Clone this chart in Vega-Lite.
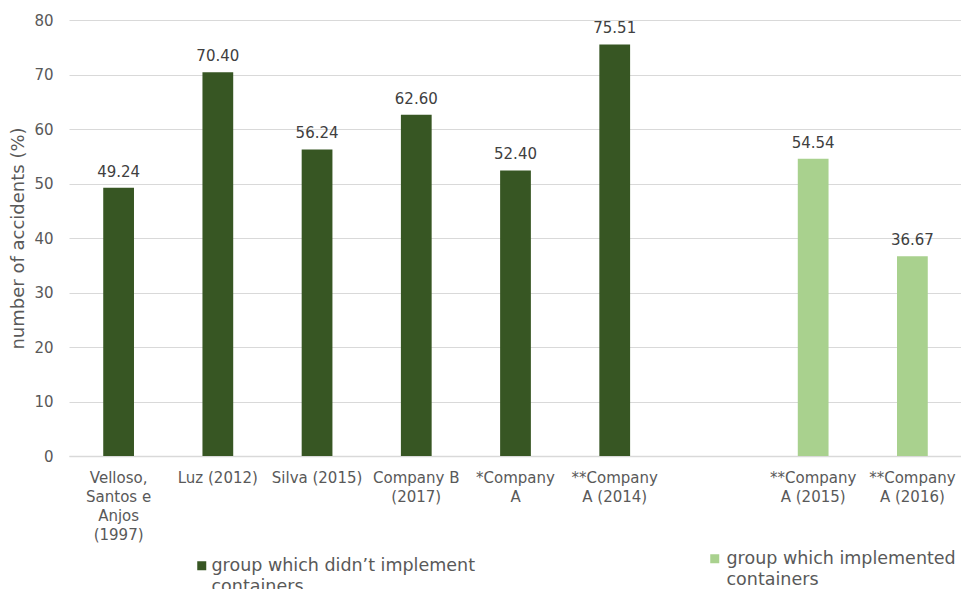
{
  "$schema": "https://vega.github.io/schema/vega-lite/v6.json",
  "autosize": "none",
  "padding": {"left": 69, "top": 20, "right": 0, "bottom": 133},
  "width": 893,
  "height": 436,
  "background": "white",
  "config": {
    "font": "DejaVu Sans",
    "view": {"stroke": null}
  },
  "data": {
    "values": [
      {"study": "Velloso,|Santos e|Anjos|(1997)", "value": 49.24, "group": "group which didn’t implement|containers"},
      {"study": "Luz (2012)", "value": 70.40, "group": "group which didn’t implement|containers"},
      {"study": "Silva (2015)", "value": 56.24, "group": "group which didn’t implement|containers"},
      {"study": "Company B|(2017)", "value": 62.60, "group": "group which didn’t implement|containers"},
      {"study": "*Company|A", "value": 52.40, "group": "group which didn’t implement|containers"},
      {"study": "**Company|A (2014)", "value": 75.51, "group": "group which didn’t implement|containers"},
      {"study": "**Company|A (2015)", "value": 54.54, "group": "group which implemented|containers"},
      {"study": "**Company|A (2016)", "value": 36.67, "group": "group which implemented|containers"}
    ]
  },
  "encoding": {
    "x": {
      "field": "study",
      "type": "nominal",
      "sort": null,
      "scale": {
        "domain": ["Velloso,|Santos e|Anjos|(1997)", "Luz (2012)", "Silva (2015)", "Company B|(2017)", "*Company|A", "**Company|A (2014)", "gap", "**Company|A (2015)", "**Company|A (2016)"],
        "paddingInner": 0.69,
        "paddingOuter": 0.345
      },
      "axis": {
        "title": null,
        "labelAngle": 0,
        "labelExpr": "datum.value == 'gap' ? '' : split(datum.value, '|')",
        "labelFontSize": 15,
        "labelColor": "#595959",
        "labelLineHeight": 19,
        "labelPadding": 14,
        "labelBaseline": "top",
        "ticks": false,
        "domainColor": "#d9d9d9",
        "domainWidth": 1.3,
        "labelLimit": 120
      }
    },
    "y": {
      "field": "value",
      "type": "quantitative",
      "scale": {"domain": [0, 80]},
      "axis": {
        "title": "number  of accidents (%)",
        "titleFont": "DejaVu Sans",
        "titleFontSize": 18,
        "titleFontWeight": "normal",
        "titleColor": "#595959",
        "titlePadding": 6,
        "values": [0, 10, 20, 30, 40, 50, 60, 70, 80],
        "labelFontSize": 15,
        "labelColor": "#595959",
        "labelPadding": 16,
        "ticks": false,
        "domain": false,
        "gridColor": "#d9d9d9",
        "gridWidth": 1.2
      }
    }
  },
  "layer": [
    {
      "transform": [{"filter": "datum.group == 'group which didn’t implement|containers'"}],
      "mark": {"type": "bar"},
      "encoding": {
        "color": {
          "field": "group",
          "type": "nominal",
          "scale": {
            "domain": ["group which didn’t implement|containers"],
            "range": ["#375623"]
          },
          "legend": {
            "title": null,
            "orient": "none",
            "legendX": 124,
            "legendY": 537,
            "symbolType": "square",
            "symbolSize": 81,
            "symbolStrokeWidth": 0,
            "labelExpr": "split(datum.value, '|')",
            "labelFontSize": 17.5,
            "labelColor": "#595959",
            "labelLimit": 400,
            "labelOffset": 1,
            "labelBaseline": "middle",
            "encode": {"labels": {"update": {"dy": {"value": 0}, "lineHeight": {"value": 21}}}}
          }
        }
      }
    },
    {
      "transform": [{"filter": "datum.group == 'group which implemented|containers'"}],
      "mark": {"type": "bar"},
      "encoding": {
        "fill": {
          "field": "group",
          "type": "nominal",
          "scale": {
            "domain": ["group which implemented|containers"],
            "range": ["#a9d18e"]
          },
          "legend": {
            "title": null,
            "orient": "none",
            "legendX": 637,
            "legendY": 530,
            "symbolType": "square",
            "symbolSize": 81,
            "symbolStrokeWidth": 0,
            "labelExpr": "split(datum.value, '|')",
            "labelFontSize": 17.5,
            "labelColor": "#595959",
            "labelLimit": 400,
            "labelOffset": 3,
            "labelBaseline": "middle",
            "encode": {"labels": {"update": {"dy": {"value": 0}, "lineHeight": {"value": 21}}}}
          }
        }
      }
    },
    {
      "mark": {"type": "text", "dy": -16, "fontSize": 15, "color": "#404040"},
      "encoding": {
        "text": {"field": "value", "type": "quantitative", "format": ".2f"}
      }
    }
  ]
}
